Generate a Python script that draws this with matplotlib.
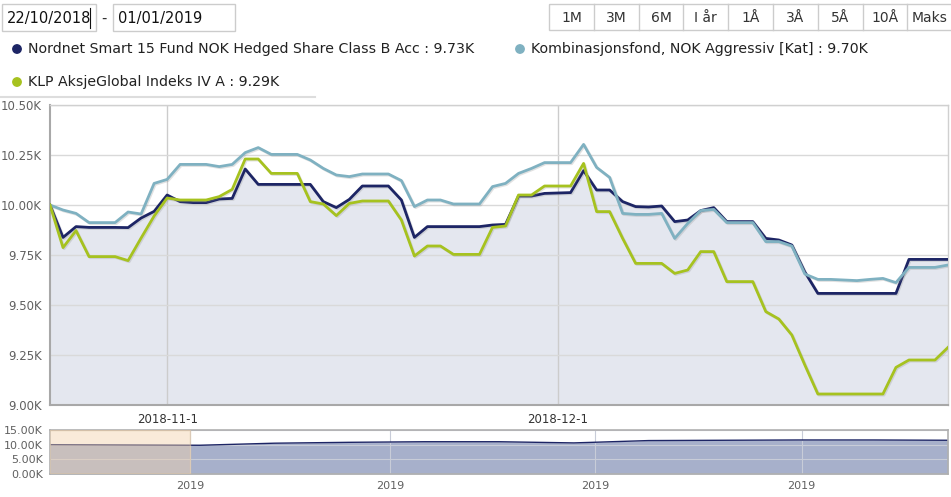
import numpy as np
import matplotlib
matplotlib.use("Agg")
import matplotlib.pyplot as plt
from matplotlib.patches import Rectangle, Circle
import matplotlib.patheffects as pe

# === Data (daily 23/10/2018 - 31/12/2018) ===
nordnet = [10000, 9838, 9892, 9888, 9888, 9888, 9887, 9935, 9968, 10050,
           10017, 10012, 10012, 10030, 10033, 10180, 10103, 10103, 10103, 10103,
           10103, 10017, 9987, 10028, 10095, 10095, 10095, 10025, 9838, 9892,
           9892, 9892, 9892, 9892, 9900, 9903, 10045, 10045, 10058, 10060,
           10062, 10172, 10075, 10075, 10017, 9992, 9990, 9995, 9917, 9925,
           9972, 9987, 9917, 9917, 9917, 9833, 9825, 9800, 9665, 9558,
           9558, 9558, 9558, 9558, 9558, 9558, 9728, 9728, 9728, 9728]
kombi = [10000, 9975, 9958, 9912, 9912, 9912, 9965, 9955, 10108, 10128,
         10203, 10203, 10203, 10192, 10203, 10262, 10287, 10253, 10253, 10253,
         10225, 10183, 10150, 10142, 10155, 10155, 10155, 10122, 9992, 10025,
         10025, 10005, 10005, 10005, 10092, 10108, 10158, 10183, 10212, 10212,
         10212, 10303, 10188, 10138, 9958, 9953, 9953, 9958, 9833, 9908,
         9972, 9978, 9912, 9912, 9912, 9817, 9817, 9795, 9655, 9628,
         9628, 9625, 9622, 9628, 9633, 9612, 9688, 9688, 9688, 9700]
klp = [10000, 9787, 9872, 9742, 9742, 9742, 9722, 9835, 9945, 10035,
       10025, 10025, 10025, 10042, 10078, 10230, 10230, 10158, 10158, 10158,
       10017, 10005, 9947, 10008, 10020, 10020, 10020, 9925, 9745, 9795,
       9795, 9753, 9753, 9753, 9888, 9895, 10050, 10050, 10095, 10095,
       10095, 10208, 9967, 9967, 9833, 9708, 9708, 9708, 9658, 9675,
       9767, 9767, 9617, 9617, 9617, 9467, 9430, 9350, 9200, 9055,
       9055, 9055, 9055, 9055, 9055, 9188, 9225, 9225, 9225, 9288]

series_names = ["Nordnet Smart 15 Fund NOK Hedged Share Class B Acc : 9.73K",
                "Kombinasjonsfond, NOK Aggressiv [Kat] : 9.70K",
                "KLP AksjeGlobal Indeks IV A : 9.29K"]
y_ticks = [9000, 9250, 9500, 9750, 10000, 10250, 10500]
y_tick_labels = ["9.00K", "9.25K", "9.50K", "9.75K", "10.00K", "10.25K", "10.50K"]
month_idx = [9, 39]            # 2018-11-1 and 2018-12-1
month_labels = ["2018-11-1", "2018-12-1"]

nav_values = [10.0, 9.9, 9.8, 10.5, 10.8, 11.0, 11.0, 10.6, 11.4, 11.5, 11.6, 11.6, 11.5]
nav_ticks = [0.156, 0.379, 0.607, 0.837]
nav_tick_labels = ["2019", "2019", "2019", "2019"]
nav_y_ticks = [0, 5, 10, 15]
nav_y_labels = ["0.00K", "5.00K", "10.00K", "15.00K"]

buttons = ["1M", "3M", "6M", "I år", "1Å", "3Å", "5Å", "10Å", "Maks"]

# === Colours ===
NAVY = "#1d2565"
LIGHTBLUE = "#7fb1c1"
GREEN = "#a6c21f"
FILL = "#e4e7ef"
GRID = "#d9d9d9"
LABEL = "#606060"

W, H = 951, 497
fig = plt.figure(figsize=(W / 100, H / 100), dpi=100)
fig.patch.set_facecolor("white")


def fx(x):
    return x / W


def fy(y):
    return 1 - y / H


def px_axes(left, top, right, bottom):
    return fig.add_axes([fx(left), fy(bottom), (right - left) / W, (bottom - top) / H])


# === Top controls ===
overlay = fig.add_axes([0, 0, 1, 1])
overlay.set_xlim(0, W)
overlay.set_ylim(H, 0)
overlay.axis("off")

overlay.add_patch(Rectangle((2, 4), 94, 27, fill=False, ec="#cccccc", lw=1))
overlay.text(7, 18, "22/10/2018", fontsize=10.5, va="center", ha="left", color="#111111")
overlay.plot([90, 90], [8, 28], color="#111111", lw=0.8)
overlay.text(104, 18, "-", fontsize=10.5, va="center", ha="center", color="#333333")
overlay.add_patch(Rectangle((113, 4), 122, 27, fill=False, ec="#cccccc", lw=1))
overlay.text(118, 18, "01/01/2019", fontsize=10.5, va="center", ha="left", color="#111111")

bx0, bw = 549, 44.8
overlay.add_patch(Rectangle((bx0, 4), bw * len(buttons), 26, fill=False, ec="#cccccc", lw=1))
for i, b in enumerate(buttons):
    if i > 0:
        overlay.plot([bx0 + i * bw] * 2, [4, 30], color="#cccccc", lw=1)
    overlay.text(bx0 + (i + 0.5) * bw, 17.5, b, fontsize=10, ha="center", va="center", color="#333333")

# === Legend ===
leg_pos = [(17, 49), (520, 49), (17, 82)]
for (lx, ly), name, col in zip(leg_pos, series_names, [NAVY, LIGHTBLUE, GREEN]):
    overlay.add_patch(Circle((lx, ly), 4.2, color=col))
    overlay.text(lx + 11, ly, name, fontsize=10.2, va="center", ha="left", color="#222222")
overlay.plot([0, 315], [97, 97], color="#dddddd", lw=1.5)

# === Main chart ===
ax = px_axes(50, 105, 948, 405)
x = np.arange(len(nordnet))
shadow = [pe.SimpleLineShadow(offset=(0.8, -0.8), shadow_color="#888888", alpha=0.25), pe.Normal()]
ax.fill_between(x, nordnet, 9000, color=FILL, lw=0, zorder=1)
ax.plot(x, nordnet, color=NAVY, lw=2, zorder=3, path_effects=shadow, solid_joinstyle="round")
ax.plot(x, kombi, color=LIGHTBLUE, lw=2, zorder=4, path_effects=shadow, solid_joinstyle="round")
ax.plot(x, klp, color=GREEN, lw=2, zorder=5, path_effects=shadow, solid_joinstyle="round")
ax.set_xlim(0, len(nordnet) - 1)
ax.set_ylim(9000, 10500)
ax.set_yticks(y_ticks)
ax.set_yticklabels(y_tick_labels, fontsize=8.5, color=LABEL)
ax.set_xticks(month_idx)
ax.set_xticklabels(month_labels, fontsize=8.5, color="#333333")
ax.tick_params(length=0, pad=6)
ax.grid(axis="y", color=GRID, lw=1, zorder=2)
ax.grid(axis="x", color="#cccccc", lw=1, zorder=2)
for s in ax.spines:
    ax.spines[s].set_color("#d0d0d0")
    ax.spines[s].set_linewidth(1)
ax.spines["left"].set_color("#a8a8a8")
ax.spines["bottom"].set_color("#a8a8a8")
ax.spines["left"].set_linewidth(1.5)
ax.spines["bottom"].set_linewidth(1.5)

# === Navigator ===
nav = px_axes(50, 430, 948, 474)
nx = np.linspace(0, 1, len(nav_values))
nav.fill_between(nx, nav_values, 0, color="#a7b0cb", lw=0, zorder=1)
nav.plot(nx, nav_values, color=NAVY, lw=1, zorder=2)
nav.axvspan(-0.002, 0.156, fc="#f2d2ac", ec="#e9c79c", lw=1, alpha=0.45, zorder=3)
nav.set_xlim(0, 1)
nav.set_ylim(0, 15)
nav.set_xticks(nav_ticks)
nav.set_xticklabels(nav_tick_labels, fontsize=8, color=LABEL)
nav.set_yticks(nav_y_ticks)
nav.set_yticklabels(nav_y_labels, fontsize=8, color=LABEL)
nav.tick_params(length=0, pad=5)
nav.grid(color="#c8ccd8", lw=0.8, zorder=0)
for s in nav.spines:
    nav.spines[s].set_color("#b0b0b0")
    nav.spines[s].set_linewidth(1.2)

fig.savefig("out.png", dpi=100, facecolor="white")
